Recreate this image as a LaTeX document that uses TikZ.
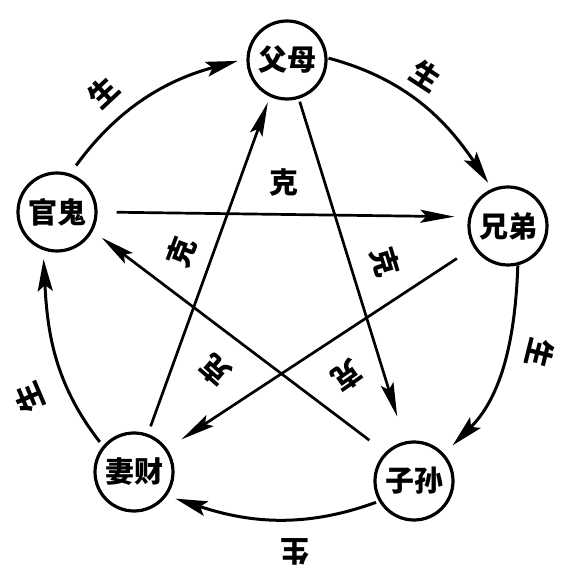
\documentclass[tikz,border=0pt]{standalone}
\usepackage{fontspec}
\newfontfamily\cjk{Noto Sans CJK SC}
\usetikzlibrary{arrows.meta}
\begin{document}
\begin{tikzpicture}[x=1pt,y=1pt,
  elem/.style={circle,draw,line width=3.2pt,minimum size=78pt,inner sep=0pt,
    font=\cjk\bfseries\fontsize{29}{29}\selectfont},
  lbl/.style={inner sep=0pt,font=\cjk\bfseries\fontsize{29}{29}\selectfont},
  sheng/.style={line width=3pt,-{Stealth[length=32pt,width=15pt,inset=6pt]}},
  ke/.style={line width=2.7pt,-{Stealth[length=34pt,width=13pt,inset=6pt]}}]
\useasboundingbox (0,0) rectangle (567,569);
\node[elem] (fu) at (287,509) {父母};
\node[elem] (guan) at (57,357) {官鬼};
\node[elem] (xiong) at (508,343) {兄弟};
\node[elem] (qi) at (134,97) {妻财};
\node[elem] (zi) at (414,88) {子孙};
% sheng arcs
\draw[sheng,shorten <=10pt,shorten >=9pt] (guan.71) to[out=54,in=195] (fu.178);
\draw[sheng,shorten <=1pt,shorten >=7pt] (fu.3) to[out=-15,in=124] (xiong.113);
\draw[sheng,shorten <=0pt,shorten >=12pt] (xiong.-76) to[out=-92,in=45] (zi.42);
\draw[sheng,shorten <=3pt,shorten >=9pt] (zi.210) to[out=200,in=-18] (qi.-36);
\draw[sheng,shorten <=5pt,shorten >=9pt] (qi.140) to[out=128,in=-87] (guan.250);
% ke lines
\draw[ke,shorten <=19pt,shorten >=14pt] (guan.0) -- (xiong.167);
\draw[ke,shorten <=3pt,shorten >=26pt] (fu.-73) -- (zi.103);
\draw[ke,shorten <=20pt,shorten >=11pt] (zi.135) -- (guan.-28);
\draw[ke,shorten <=20pt,shorten >=17pt] (xiong.212) -- (qi.35);
\draw[ke,shorten <=8pt,shorten >=6pt] (qi.70) -- (fu.245);
% labels
\node[lbl] (k1) at (284,386) {克};
\node[lbl,rotate=69] (k2) at (181,317) {克};
\node[lbl,rotate=-73] (k3) at (385,307) {克};
\node[lbl,rotate=139] (k4) at (215,199) {克};
\node[lbl,rotate=-145] (k5) at (347,193) {克};
\node[lbl,rotate=43] (s1) at (103,477) {生};
\node[lbl,rotate=-33] (s2) at (426,493) {生};
\node[lbl,rotate=-104] (s3) at (540,216) {生};
\node[lbl,rotate=180] (s4) at (295,17) {生};
\node[lbl,rotate=113] (s5) at (29,171) {生};
\end{tikzpicture}
\end{document}
